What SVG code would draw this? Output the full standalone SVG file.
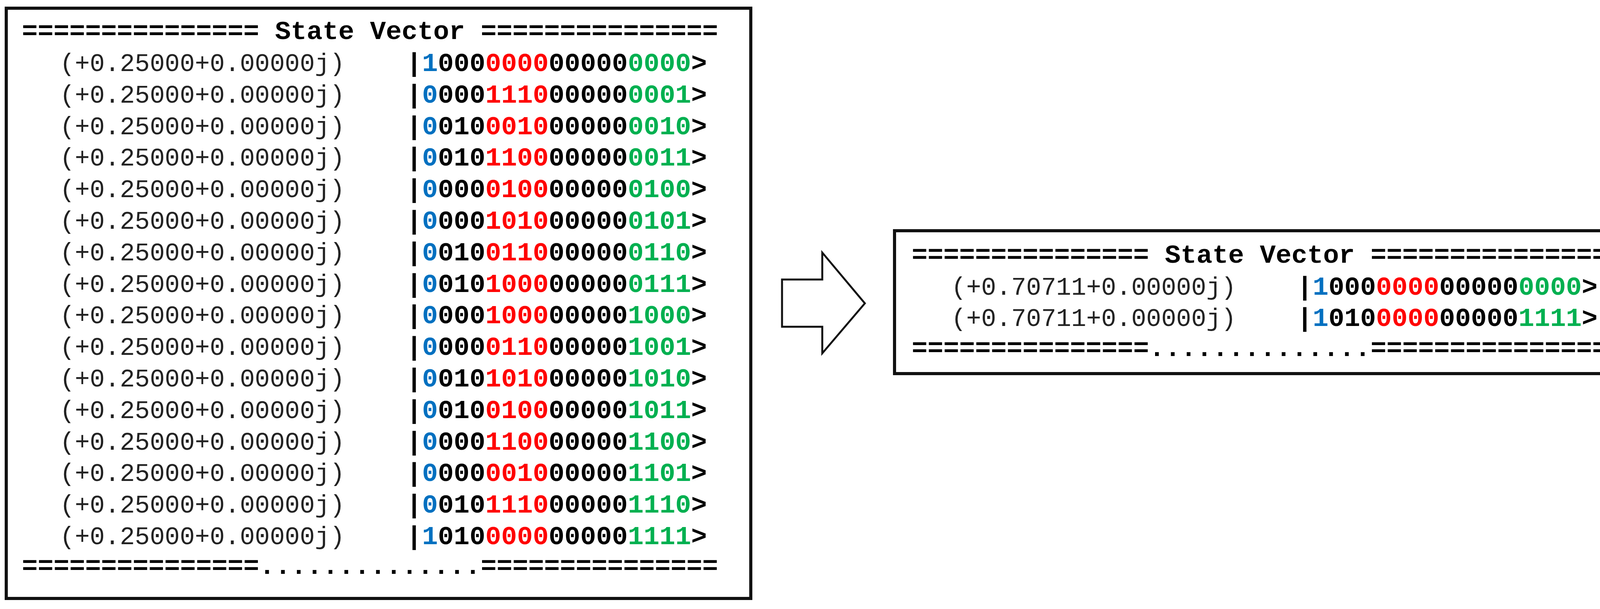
<svg xmlns="http://www.w3.org/2000/svg" width="4222" height="1560" viewBox="0 0 4222 1560">
<style>
.box{fill:#fff;stroke:#111;stroke-width:8}
.t{font-family:"Liberation Mono","Courier New",monospace;font-size:67.5px;font-weight:bold;fill:#000}
.a{font-family:"Liberation Mono","Courier New",monospace;font-size:64px;fill:#222}
.b{fill:#0070C0}.r{fill:#FF0000}.g{fill:#00B050}
</style>
<rect width="4222" height="1560" fill="#fff"/>
<g id="left">
<rect class="box" x="16" y="21" width="1906" height="1512"/>
<text class="t" x="56" y="100">=============== State Vector ===============</text>
<g class="a">
<text x="153" y="182">(+0.25000+0.00000j)</text>
<text x="153" y="263">(+0.25000+0.00000j)</text>
<text x="153" y="344">(+0.25000+0.00000j)</text>
<text x="153" y="424">(+0.25000+0.00000j)</text>
<text x="153" y="505">(+0.25000+0.00000j)</text>
<text x="153" y="586">(+0.25000+0.00000j)</text>
<text x="153" y="667">(+0.25000+0.00000j)</text>
<text x="153" y="748">(+0.25000+0.00000j)</text>
<text x="153" y="828">(+0.25000+0.00000j)</text>
<text x="153" y="909">(+0.25000+0.00000j)</text>
<text x="153" y="990">(+0.25000+0.00000j)</text>
<text x="153" y="1071">(+0.25000+0.00000j)</text>
<text x="153" y="1152">(+0.25000+0.00000j)</text>
<text x="153" y="1232">(+0.25000+0.00000j)</text>
<text x="153" y="1313">(+0.25000+0.00000j)</text>
<text x="153" y="1394">(+0.25000+0.00000j)</text>
</g>
<g class="t">
<text x="1040" y="182">|<tspan class="b">1</tspan>000<tspan class="r">0000</tspan>00000<tspan class="g">0000</tspan>&gt;</text>
<text x="1040" y="263">|<tspan class="b">0</tspan>000<tspan class="r">1110</tspan>00000<tspan class="g">0001</tspan>&gt;</text>
<text x="1040" y="344">|<tspan class="b">0</tspan>010<tspan class="r">0010</tspan>00000<tspan class="g">0010</tspan>&gt;</text>
<text x="1040" y="424">|<tspan class="b">0</tspan>010<tspan class="r">1100</tspan>00000<tspan class="g">0011</tspan>&gt;</text>
<text x="1040" y="505">|<tspan class="b">0</tspan>000<tspan class="r">0100</tspan>00000<tspan class="g">0100</tspan>&gt;</text>
<text x="1040" y="586">|<tspan class="b">0</tspan>000<tspan class="r">1010</tspan>00000<tspan class="g">0101</tspan>&gt;</text>
<text x="1040" y="667">|<tspan class="b">0</tspan>010<tspan class="r">0110</tspan>00000<tspan class="g">0110</tspan>&gt;</text>
<text x="1040" y="748">|<tspan class="b">0</tspan>010<tspan class="r">1000</tspan>00000<tspan class="g">0111</tspan>&gt;</text>
<text x="1040" y="828">|<tspan class="b">0</tspan>000<tspan class="r">1000</tspan>00000<tspan class="g">1000</tspan>&gt;</text>
<text x="1040" y="909">|<tspan class="b">0</tspan>000<tspan class="r">0110</tspan>00000<tspan class="g">1001</tspan>&gt;</text>
<text x="1040" y="990">|<tspan class="b">0</tspan>010<tspan class="r">1010</tspan>00000<tspan class="g">1010</tspan>&gt;</text>
<text x="1040" y="1071">|<tspan class="b">0</tspan>010<tspan class="r">0100</tspan>00000<tspan class="g">1011</tspan>&gt;</text>
<text x="1040" y="1152">|<tspan class="b">0</tspan>000<tspan class="r">1100</tspan>00000<tspan class="g">1100</tspan>&gt;</text>
<text x="1040" y="1232">|<tspan class="b">0</tspan>000<tspan class="r">0010</tspan>00000<tspan class="g">1101</tspan>&gt;</text>
<text x="1040" y="1313">|<tspan class="b">0</tspan>010<tspan class="r">1110</tspan>00000<tspan class="g">1110</tspan>&gt;</text>
<text x="1040" y="1394">|<tspan class="b">1</tspan>010<tspan class="r">0000</tspan>00000<tspan class="g">1111</tspan>&gt;</text>
</g>
<text class="t" x="56" y="1470">===============..............===============</text>
</g>
<g id="connectors">
<path d="M2002,716 H2105 V647 L2214,777 L2105,905 V837 H2002 Z" fill="#fff" stroke="#111" stroke-width="5"/>
</g>
<g id="right">
<rect class="box" x="2290" y="591" width="1910" height="366"/>
<text class="t" x="2334" y="673">=============== State Vector ===============</text>
<text class="a" x="2435" y="755">(+0.70711+0.00000j)</text>
<text class="a" x="2435" y="835">(+0.70711+0.00000j)</text>
<text class="t" x="3320" y="755">|<tspan class="b">1</tspan>000<tspan class="r">0000</tspan>00000<tspan class="g">0000</tspan>&gt;</text>
<text class="t" x="3320" y="835">|<tspan class="b">1</tspan>010<tspan class="r">0000</tspan>00000<tspan class="g">1111</tspan>&gt;</text>
<text class="t" x="2334" y="912">===============..............===============</text>
</g>
</svg>
